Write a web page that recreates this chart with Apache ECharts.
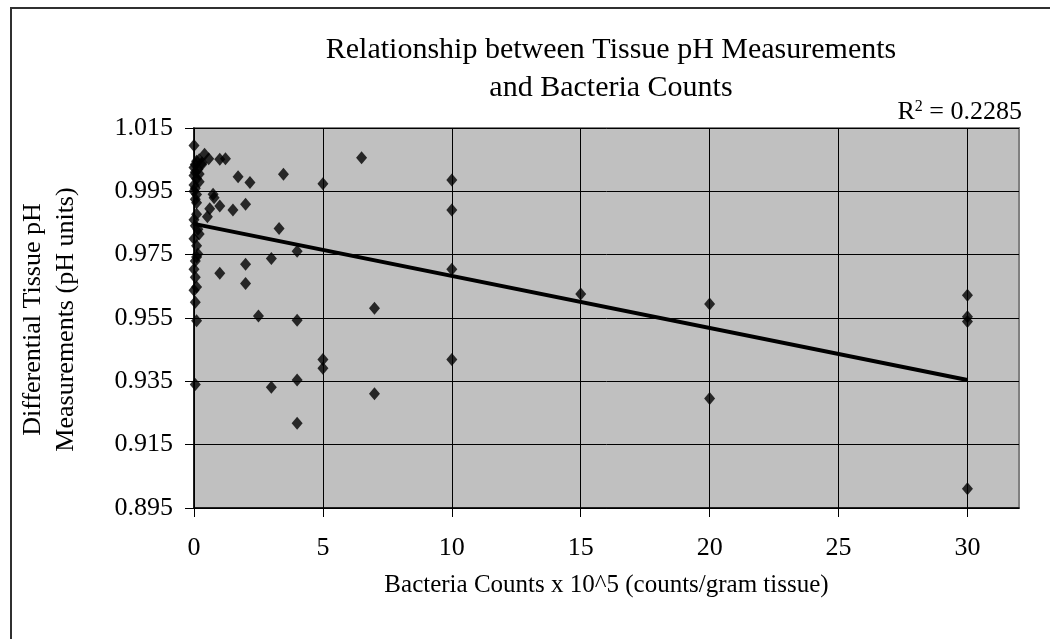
<!DOCTYPE html>
<html>
<head>
<meta charset="utf-8">
<script src="https://cdn.jsdelivr.net/npm/echarts@6/dist/echarts.min.js"></script>
<style>
html,body{margin:0;padding:0;background:#fff;}
#chart{width:1050px;height:639px;}
</style>
</head>
<body>
<div id="chart"></div>
<script>
// Bacteria counts (x 10^5 counts/gram tissue)
const bacteriaCounts = [
  0, 0.1, 0.2, 0.05, 0.3, 0, 0.15, 0.05, 0.2, 0, 0.1, 0.2, 0, 0.05, 0, 0.1, 0.05, 0.1, 0.1, 0,
  0.05, 0.15, 0.2, 0, 0.1, 0.15, 0.1, 0.05, 0, 0.05, 0.1, 0, 0.05, 0.1, 0.05,
  0.41, 0.57, 0.31, 1.0, 1.22, 1.71, 2.17, 3.47, 0.74, 0.78, 1.0, 0.61, 1.51, 2.0, 0.52,
  3.3, 4.0, 3.0, 2.0, 1.0, 2.0, 2.5, 4.0, 3.0, 4.0, 4.0,
  5, 6.5, 10, 10, 10, 7, 5, 5, 10, 7,
  15, 20, 20, 30, 30, 30, 30
];
// Differential tissue pH (pH units)
const phValues = [
  1.0095, 1.0045, 1.0050, 1.0035, 1.0035, 1.0025, 1.0020, 1.0010, 1.0005, 1.0000, 0.9990, 0.9980, 0.9970, 0.9960, 0.9950, 0.9940, 0.9925, 0.9914, 0.9878, 0.9860,
  0.9841, 0.9830, 0.9815, 0.9800, 0.9778, 0.9752, 0.9743, 0.9730, 0.9704, 0.9679, 0.9648, 0.9638, 0.9600, 0.9541, 0.9340,
  1.0067, 1.0053, 1.0040, 1.0051, 1.0053, 0.9996, 0.9978, 1.0004, 0.9941, 0.9930, 0.9904, 0.9895, 0.9891, 0.9909, 0.9870,
  0.9833, 0.9761, 0.9738, 0.9720, 0.9691, 0.9659, 0.9556, 0.9543, 0.9331, 0.9354, 0.9218,
  0.9974, 1.0056, 0.9986, 0.9891, 0.9704, 0.9581, 0.9419, 0.9391, 0.9419, 0.9311,
  0.9626, 0.9594, 0.9296, 0.9622, 0.9554, 0.9539, 0.9011
];
const xTicks = [0, 5, 10, 15, 20, 25, 30];
const yTicks = [0.895, 0.915, 0.935, 0.955, 0.975, 0.995, 1.015];
const titleLines = ['Relationship between Tissue pH Measurements', 'and Bacteria Counts'];
const xTitle = 'Bacteria Counts x 10^5 (counts/gram tissue)';
const yTitleLines = ['Differential Tissue pH', 'Measurements (pH units)'];
const rSquared = '0.2285';

const points = bacteriaCounts.map((x, i) => [x, phValues[i]]);
// least-squares linear trendline
const n = points.length;
let sx = 0, sy = 0, sxx = 0, sxy = 0;
points.forEach(([x, y]) => { sx += x; sy += y; sxx += x * x; sxy += x * y; });
const slope = (n * sxy - sx * sy) / (n * sxx - sx * sx);
const intercept = (sy - slope * sx) / n;
const xMinData = Math.min(...bacteriaCounts), xMaxData = Math.max(...bacteriaCounts);
const trend = [[xMinData, intercept + slope * xMinData], [xMaxData, intercept + slope * xMaxData]];

const FONT = '"Liberation Serif", "Times New Roman", serif';
const chart = echarts.init(document.getElementById('chart'), null, { renderer: 'canvas' });
chart.setOption({
  animation: false,
  backgroundColor: '#ffffff',
  title: {
    text: titleLines.join('\n'),
    left: 606, top: 26, textAlign: 'center',
    textStyle: { fontFamily: FONT, fontSize: 30, fontWeight: 'normal', color: '#000', lineHeight: 38 }
  },
  grid: {
    left: 194, top: 128, right: 31, bottom: 131,
    show: true, backgroundColor: '#c0c0c0', borderColor: '#808080', borderWidth: 2
  },
  xAxis: {
    type: 'value', min: 0, max: 32, interval: 5,
    name: xTitle, nameLocation: 'middle', nameGap: 65,
    nameTextStyle: { fontFamily: FONT, fontSize: 25, color: '#000' },
    axisLine: { onZero: false, lineStyle: { color: '#000', width: 1.5 } },
    axisTick: { show: true, length: 9, customValues: xTicks, lineStyle: { color: '#000' } },
    axisLabel: { customValues: xTicks, margin: 27, fontFamily: FONT, fontSize: 26, color: '#000' },
    splitLine: { show: true, lineStyle: { color: '#000', width: 1 } }
  },
  yAxis: {
    type: 'value', min: 0.895, max: 1.015,
    axisLine: { onZero: false, lineStyle: { color: '#000', width: 1.5 } },
    axisTick: { show: true, length: 9, customValues: yTicks, lineStyle: { color: '#000' } },
    axisLabel: { customValues: yTicks, margin: 21, fontFamily: FONT, fontSize: 26, color: '#000',
      formatter: v => v.toFixed(3) },
    splitLine: { show: true, lineStyle: { color: '#000', width: 1 } }
  },
  graphic: [
    { type: 'rect', silent: true, z: -10, shape: { x: 11, y: 8, width: 1100, height: 700 },
      style: { fill: 'none', stroke: '#303030', lineWidth: 2 } },
    { type: 'text', left: 20, top: 'middle', rotation: Math.PI / 2,
      style: { text: yTitleLines[0], font: '26px ' + FONT, fill: '#000' } },
    { type: 'text', left: 53, top: 'middle', rotation: Math.PI / 2,
      style: { text: yTitleLines[1], font: '26px ' + FONT, fill: '#000' } },
    { type: 'text', right: 28, top: 99,
      style: { text: '{b|R}{s|2}{b| = ' + rSquared + '}',
        rich: { b: { font: '26px ' + FONT, fill: '#000' }, s: { font: '16px ' + FONT, fill: '#000', verticalAlign: 'top', padding: [0,0,10,0] } } } }
  ],
  series: [
    { type: 'scatter', data: points, symbol: 'diamond', symbolSize: [11, 13],
      itemStyle: { color: '#000' }, z: 3 },
    { type: 'line', data: trend, showSymbol: false, symbol: 'none',
      lineStyle: { color: '#000', width: 4 }, z: 4 }
  ]
});
</script>
</body>
</html>
